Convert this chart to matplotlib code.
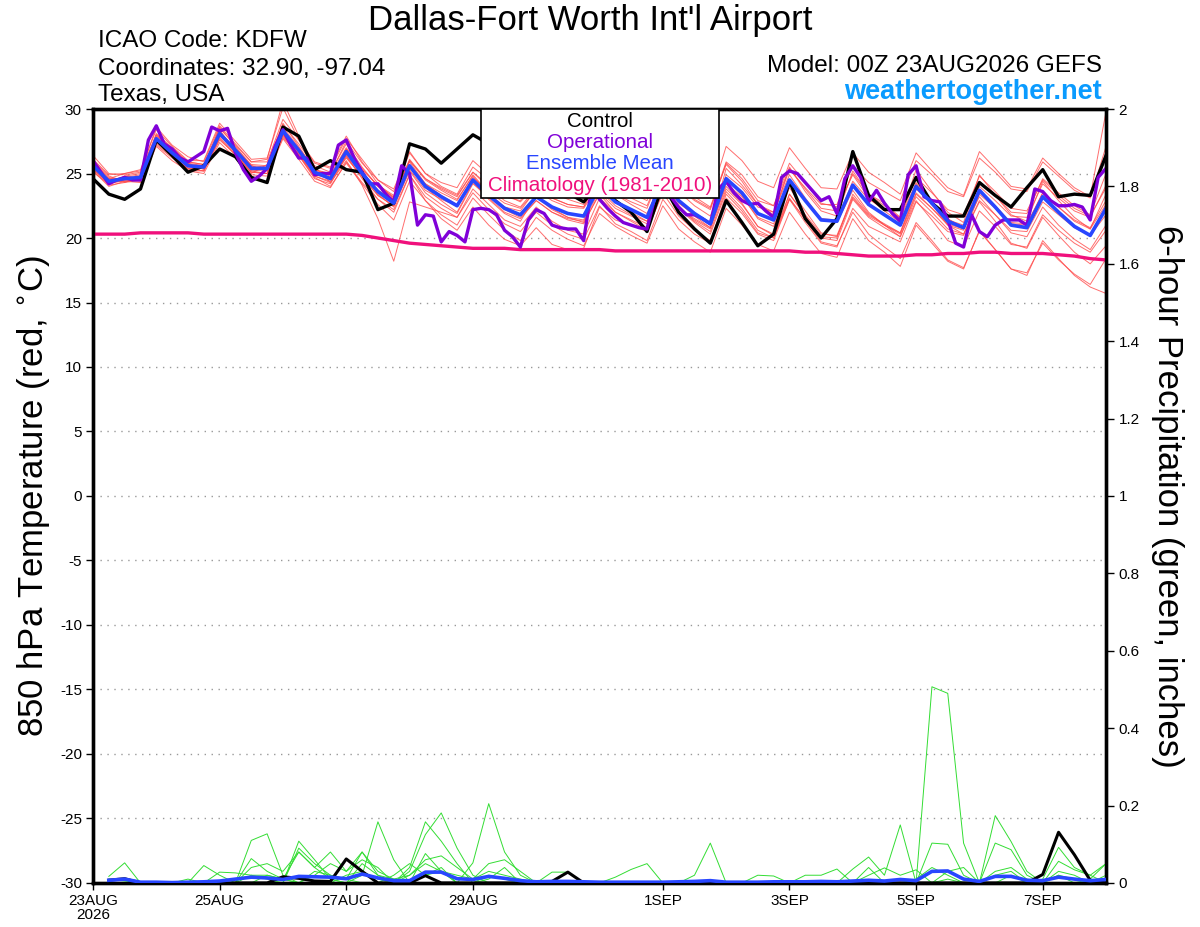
import numpy as np
import matplotlib
matplotlib.use('Agg')
import matplotlib.pyplot as plt
from matplotlib.patches import Rectangle

plt.rcParams['font.family'] = ['Liberation Sans', 'DejaVu Sans']

# 6-hourly ensemble output, 0..384 h
ens_hours = list(range(0, 385, 6))
# operational run is 3-hourly
oper_hours = list(range(0, 385, 3))
# precip starts at 6 h
pcp_hours = list(range(6, 385, 6))

control_t = [24.6, 23.4, 23.0, 23.8, 27.6, 26.4, 25.1, 25.6,
             26.9, 26.3, 24.7, 24.3, 28.6, 27.9, 25.3, 26.0,
             25.3, 25.1, 22.2, 22.7, 27.3, 26.9, 25.8, 26.9,
             28.0, 27.3, 26.0, 25.0, 24.5, 24.0, 23.5, 22.8,
             24.3, 22.9, 22.0, 20.5, 24.2, 22.0, 20.7, 19.6,
             22.9, 21.2, 19.4, 20.3, 24.4, 21.5, 20.0, 21.5,
             26.7, 23.3, 22.2, 22.2, 24.7, 22.7, 21.7, 21.7,
             24.3, 23.3, 22.4, 23.9, 25.3, 23.2, 23.4, 23.3,
             26.4]

mean_t = [25.6, 24.4, 24.6, 24.7, 27.7, 26.6, 25.6, 25.5,
          28.1, 26.8, 25.4, 25.4, 28.3, 26.8, 25.1, 24.6,
          26.7, 25.0, 23.6, 22.7, 25.6, 24.0, 23.2, 22.5,
          24.5, 23.3, 22.3, 21.8, 23.2, 22.4, 21.9, 21.7,
          24.0, 22.8, 22.2, 21.6, 24.5, 22.9, 21.9, 21.1,
          24.6, 23.5, 21.9, 21.4, 24.5, 22.9, 21.4, 21.3,
          24.1, 22.6, 21.8, 21.0, 24.0, 22.7, 21.3, 20.8,
          23.7, 22.4, 21.0, 20.8, 23.2, 22.0, 20.9, 20.2,
          22.3]

oper_t = [26.0, 25.1, 24.2, 24.5, 24.7, 24.5, 24.5, 27.6,
          28.7, 27.3, 26.9, 26.2, 25.9, 26.3, 26.7, 28.6,
          28.3, 28.5, 26.6, 25.3, 24.4, 24.8, 25.4, 27.1,
          28.4, 27.2, 26.2, 26.2, 24.9, 25.0, 25.0, 27.2,
          27.6, 26.2, 25.1, 24.2, 24.2, 23.4, 22.8, 25.6,
          25.0, 21.0, 21.8, 21.7, 19.7, 20.5, 20.2, 19.7,
          22.2, 22.3, 22.2, 21.8, 20.6, 20.1, 19.3, 21.4,
          22.2, 21.9, 21.0, 20.8, 20.7, 20.7, 19.8, 23.9,
          23.0, 22.3, 21.7, 21.2, 21.0, 20.8, 20.7, 23.2,
          24.0, 23.2, 22.4, 21.8, 21.8, 21.5, 21.1, 23.8,
          24.4, 23.5, 22.9, 22.6, 22.7, 22.1, 21.6, 24.7,
          25.2, 25.0, 24.3, 23.6, 22.9, 23.2, 21.9, 24.6,
          25.6, 24.7, 22.8, 23.7, 22.7, 21.9, 21.3, 24.9,
          25.6, 23.2, 22.9, 22.8, 21.4, 19.6, 19.3, 21.8,
          20.5, 20.1, 21.0, 21.4, 21.4, 21.4, 21.0, 23.8,
          23.6, 22.9, 22.5, 22.5, 22.6, 22.4, 21.4, 24.7,
          25.4]

clim_t = [20.3, 20.3, 20.3, 20.4, 20.4, 20.4, 20.4, 20.3,
          20.3, 20.3, 20.3, 20.3, 20.3, 20.3, 20.3, 20.3,
          20.3, 20.2, 20.0, 19.8, 19.6, 19.5, 19.4, 19.3,
          19.2, 19.2, 19.2, 19.1, 19.1, 19.1, 19.1, 19.1,
          19.1, 19.0, 19.0, 19.0, 19.0, 19.0, 19.0, 19.0,
          19.0, 19.0, 19.0, 19.0, 19.0, 18.9, 18.9, 18.8,
          18.7, 18.6, 18.6, 18.6, 18.7, 18.7, 18.8, 18.8,
          18.9, 18.9, 18.8, 18.8, 18.8, 18.7, 18.6, 18.4,
          18.3]

members_t = [
    [26.1, 24.9, 25.0, 25.3, 28.4, 27.1, 26.0, 26.0, 28.9, 27.5, 26.1, 26.2, 30.1, 27.6, 25.8, 25.4,
     27.7, 26.1, 24.5, 23.8, 26.7, 25.0, 24.3, 23.9, 26.0, 24.9, 23.8, 23.3, 24.8, 23.9, 23.4, 23.1,
     26.0, 24.8, 24.3, 23.6, 26.4, 24.9, 24.0, 23.1, 27.1, 26.0, 24.4, 23.9, 27.0, 25.4, 23.9, 23.8,
     26.6, 25.1, 24.3, 23.4, 26.6, 25.2, 23.9, 23.3, 26.7, 25.4, 24.0, 23.8, 26.2, 25.0, 23.9, 23.2, 29.8],
    [25.3, 24.1, 24.3, 24.5, 27.3, 26.3, 25.2, 25.2, 27.6, 26.5, 25.1, 25.0, 27.9, 26.4, 24.7, 24.0,
     25.8, 24.2, 22.6, 21.4, 24.4, 22.9, 21.8, 21.0, 23.1, 21.8, 20.6, 19.8, 21.6, 20.6, 19.9, 19.4,
     21.9, 20.9, 20.2, 19.6, 22.5, 20.7, 19.7, 18.9, 22.3, 21.0, 19.5, 19.0, 22.0, 20.3, 18.8, 18.5,
     21.5, 19.8, 18.9, 17.8, 21.0, 19.6, 18.2, 17.6, 20.6, 19.1, 17.6, 17.1, 19.8, 18.4, 17.1, 16.2, 15.7],
    [25.9, 24.6, 25.0, 25.2, 28.0, 26.9, 25.9, 25.7, 28.5, 27.2, 25.9, 26.1, 30.6, 27.9, 25.5, 24.3,
     26.0, 24.1, 21.5, 18.2, 22.8, 22.4, 22.0, 21.6, 23.8, 22.6, 21.4, 20.9, 22.4, 21.3, 20.6, 20.3,
     23.1, 22.0, 21.4, 20.8, 24.0, 22.3, 21.5, 20.8, 25.4, 24.1, 22.6, 21.8, 25.5, 23.6, 22.1, 21.7,
     25.2, 23.4, 22.7, 21.6, 25.3, 23.6, 22.0, 21.2, 24.9, 23.3, 21.8, 21.3, 24.4, 22.9, 21.6, 20.7, 23.4],
    [25.4, 24.2, 24.8, 25.0, 27.5, 26.4, 25.3, 25.6, 28.4, 26.6, 25.0, 25.7, 28.9, 27.1, 25.3, 25.0,
     27.5, 25.8, 24.5, 23.6, 26.6, 25.0, 24.0, 23.4, 25.5, 24.5, 23.4, 22.8, 24.1, 23.5, 23.0, 22.6,
     24.9, 23.9, 23.5, 22.9, 25.8, 24.1, 23.0, 22.3, 25.9, 24.9, 23.2, 22.5, 25.4, 23.8, 22.3, 22.1,
     25.0, 23.4, 22.5, 21.5, 24.3, 22.8, 21.5, 20.8, 23.2, 21.8, 20.4, 20.1, 22.4, 21.0, 19.9, 19.1, 21.0],
    [25.8, 24.3, 24.5, 24.4, 27.8, 26.7, 25.8, 25.3, 27.9, 26.9, 25.6, 25.2, 28.0, 26.5, 24.8, 24.4,
     26.4, 24.6, 23.0, 22.0, 24.9, 23.2, 22.3, 21.6, 23.5, 22.2, 21.1, 20.5, 22.0, 21.0, 20.3, 19.9,
     22.5, 21.1, 20.5, 19.8, 23.0, 21.4, 20.3, 19.6, 23.4, 22.1, 20.4, 20.0, 23.4, 21.7, 20.1, 20.0,
     23.4, 21.9, 21.0, 20.4, 23.8, 22.6, 21.4, 21.0, 24.4, 23.3, 22.0, 21.9, 24.6, 23.5, 22.5, 21.8, 25.0],
    [26.4, 25.0, 24.9, 25.1, 28.6, 27.2, 26.3, 25.9, 28.7, 27.3, 25.9, 25.9, 29.2, 27.6, 25.9, 25.5,
     27.9, 25.9, 24.2, 23.1, 25.7, 23.9, 22.9, 22.0, 24.3, 23.0, 21.9, 21.3, 23.3, 22.3, 21.6, 21.4,
     24.6, 23.4, 22.8, 22.3, 25.4, 23.9, 22.9, 22.2, 25.8, 24.6, 22.9, 22.5, 25.8, 24.3, 22.7, 22.4,
     24.9, 23.1, 22.1, 21.2, 24.2, 22.6, 21.0, 20.3, 22.8, 21.3, 19.6, 19.2, 21.6, 20.2, 18.9, 18.0, 19.4],
    [25.2, 24.0, 24.4, 24.3, 27.1, 26.0, 25.2, 25.0, 27.4, 26.2, 24.9, 24.8, 27.7, 26.1, 24.4, 23.9,
     25.9, 24.3, 23.0, 22.2, 24.9, 22.9, 21.5, 20.6, 22.4, 21.0, 19.9, 19.4, 20.8, 19.5, 19.1, 19.2,
     22.4, 21.4, 21.0, 20.5, 23.7, 22.3, 21.4, 20.7, 24.2, 23.2, 21.6, 21.1, 24.3, 22.9, 21.5, 21.4,
     24.4, 23.0, 22.3, 21.6, 24.7, 23.5, 22.2, 21.8, 24.8, 23.6, 22.3, 22.1, 24.5, 23.3, 22.3, 21.7, 23.9],
    [25.7, 24.5, 24.7, 24.9, 27.9, 26.9, 25.8, 25.6, 28.3, 26.8, 25.2, 25.3, 28.6, 27.0, 25.3, 24.9,
     27.0, 25.4, 24.0, 23.2, 26.1, 24.6, 23.8, 23.2, 25.1, 23.9, 22.9, 22.4, 23.9, 23.1, 22.6, 22.4,
     24.7, 23.4, 22.6, 21.9, 24.6, 22.8, 21.7, 20.8, 24.0, 22.7, 20.9, 20.2, 23.1, 21.4, 19.7, 19.4,
     22.0, 20.3, 19.3, 18.4, 21.2, 19.8, 18.3, 17.7, 20.5, 19.1, 17.6, 17.3, 19.6, 18.3, 17.2, 16.4, 18.4],
    [25.5, 24.6, 24.6, 24.6, 27.4, 26.5, 25.5, 25.4, 28.0, 26.9, 25.6, 25.5, 28.2, 26.9, 25.2, 24.8,
     26.9, 25.3, 24.1, 23.3, 26.0, 24.6, 23.9, 23.3, 25.1, 24.1, 23.2, 22.9, 24.5, 23.8, 23.4, 23.3,
     25.5, 24.3, 23.6, 23.1, 25.9, 24.3, 23.2, 22.4, 25.7, 24.4, 22.6, 22.0, 24.9, 23.1, 21.5, 21.2,
     23.7, 22.0, 21.0, 20.1, 22.9, 21.4, 19.8, 19.3, 22.1, 20.9, 19.5, 19.3, 21.8, 20.6, 19.6, 18.9, 20.6],
    [25.9, 24.7, 24.3, 24.8, 28.1, 27.0, 25.9, 25.7, 28.2, 27.0, 25.7, 25.6, 28.8, 27.3, 25.6, 25.1,
     27.3, 25.5, 24.0, 23.1, 25.9, 24.2, 23.3, 22.6, 24.4, 23.1, 22.0, 21.5, 22.9, 22.0, 21.5, 21.3,
     23.7, 22.5, 21.8, 21.3, 24.2, 22.7, 21.8, 21.1, 24.9, 23.9, 22.4, 22.0, 25.3, 23.9, 22.6, 22.6,
     25.6, 24.3, 23.6, 22.9, 26.0, 24.9, 23.6, 23.2, 26.2, 25.1, 23.8, 23.6, 25.9, 24.8, 23.7, 23.1, 27.1],
    [25.6, 24.2, 24.8, 24.6, 27.6, 26.5, 25.7, 25.6, 28.0, 26.6, 25.3, 25.3, 28.1, 26.6, 24.9, 24.6,
     26.2, 24.8, 23.3, 22.5, 25.3, 23.7, 23.0, 22.5, 24.7, 23.6, 22.7, 22.3, 23.7, 22.9, 22.4, 22.3,
     24.2, 22.8, 22.0, 21.3, 24.1, 22.4, 21.3, 20.5, 23.8, 22.6, 20.9, 20.3, 23.4, 21.8, 20.3, 20.2,
     23.2, 21.8, 21.1, 20.4, 23.5, 22.3, 21.0, 20.6, 23.7, 22.5, 21.2, 21.1, 23.5, 22.4, 21.3, 20.7, 22.6],
    [25.3, 24.3, 24.4, 24.6, 27.5, 26.4, 25.4, 25.2, 27.7, 26.4, 25.1, 25.0, 28.0, 26.5, 24.8, 24.3,
     26.4, 24.9, 23.7, 23.0, 26.0, 24.5, 23.7, 23.0, 24.8, 23.4, 22.2, 21.6, 22.9, 22.0, 21.4, 21.1,
     23.5, 22.3, 21.7, 21.1, 24.0, 22.3, 21.2, 20.3, 23.6, 22.3, 20.6, 20.0, 23.0, 21.2, 19.6, 19.3,
     22.3, 20.9, 20.3, 19.7, 22.8, 21.7, 20.5, 20.2, 23.4, 22.3, 21.1, 21.0, 23.5, 22.4, 21.4, 20.8, 22.9],
    [26.0, 24.8, 24.4, 24.5, 28.0, 26.8, 25.7, 25.4, 28.6, 27.1, 25.6, 25.2, 28.4, 26.7, 25.0, 24.7,
     26.9, 25.1, 23.4, 22.4, 25.2, 23.5, 22.6, 21.9, 24.2, 23.2, 22.4, 22.1, 23.8, 23.1, 22.6, 22.4,
     25.0, 23.7, 23.1, 22.5, 25.4, 23.6, 22.5, 21.7, 24.6, 23.3, 21.5, 20.9, 23.9, 22.1, 20.4, 20.1,
     23.1, 21.7, 21.0, 20.3, 23.4, 22.3, 21.1, 20.7, 24.0, 22.9, 21.7, 21.6, 24.2, 23.1, 22.1, 21.6, 24.1],
    [25.1, 24.2, 24.5, 24.8, 27.2, 26.2, 25.4, 25.2, 27.8, 26.5, 25.2, 25.0, 27.8, 26.4, 24.6, 24.2,
     26.3, 24.7, 23.3, 22.5, 25.6, 24.2, 23.5, 22.9, 24.9, 23.5, 22.4, 21.8, 23.2, 22.2, 21.6, 21.2,
     23.4, 22.0, 21.3, 20.6, 23.5, 21.7, 20.6, 19.8, 23.1, 21.9, 20.3, 19.8, 23.0, 21.5, 20.0, 19.8,
     23.0, 21.6, 20.8, 20.1, 23.2, 22.0, 20.7, 20.3, 22.9, 21.8, 20.6, 20.5, 22.8, 21.8, 20.8, 20.2, 21.8],
]

control_p = [0.007, 0.011, 0.0, 0.0, 0.0, 0.0, 0.0, 0.0,
             0.0, 0.0, 0.0, 0.016, 0.012, 0.005, 0.004, 0.062,
             0.03, 0.0, 0.0, 0.0, 0.019, 0.0, 0.0, 0.0,
             0.0, 0.0, 0.0, 0.0, 0.004, 0.028, 0.0, 0.0,
             0.0, 0.0, 0.0, 0.0, 0.0, 0.0, 0.0, 0.0,
             0.0, 0.0, 0.0, 0.0, 0.0, 0.0, 0.0, 0.0,
             0.0, 0.0, 0.0, 0.0, 0.0, 0.0, 0.0, 0.0,
             0.0, 0.0, 0.0, 0.022, 0.131, 0.073, 0.007, 0.0]

mean_p = [0.007, 0.010, 0.002, 0.002, 0.001, 0.002, 0.003, 0.005,
          0.010, 0.015, 0.013, 0.009, 0.017, 0.016, 0.015, 0.011,
          0.023, 0.013, 0.006, 0.006, 0.028, 0.028, 0.011, 0.009,
          0.017, 0.012, 0.006, 0.003, 0.004, 0.004, 0.003, 0.002,
          0.002, 0.002, 0.002, 0.002, 0.003, 0.004, 0.006, 0.002,
          0.002, 0.002, 0.003, 0.003, 0.003, 0.004, 0.003, 0.005,
          0.007, 0.005, 0.009, 0.006, 0.030, 0.031, 0.010, 0.004,
          0.017, 0.017, 0.007, 0.006, 0.015, 0.010, 0.006, 0.009]

members_p = [
    [0.017, 0.052, 0, 0, 0, 0, 0, 0, 0, 0.11, 0.127, 0.02, 0, 0, 0, 0,
     0, 0, 0, 0, 0.02, 0.04, 0, 0.052, 0.205, 0.08, 0.02, 0, 0, 0, 0, 0,
     0, 0, 0, 0, 0, 0, 0, 0, 0, 0, 0, 0, 0, 0, 0, 0,
     0, 0, 0, 0.01, 0.04, 0.02, 0, 0, 0, 0, 0, 0, 0, 0, 0, 0],
    [0.01, 0.005, 0, 0, 0, 0, 0.045, 0.02, 0, 0, 0, 0, 0.108, 0.06, 0.01, 0,
     0.02, 0.158, 0.06, 0, 0, 0, 0, 0, 0, 0, 0, 0, 0, 0, 0, 0,
     0, 0, 0, 0, 0, 0, 0, 0, 0, 0, 0, 0, 0, 0, 0, 0,
     0, 0, 0, 0, 0.507, 0.49, 0.103, 0, 0, 0, 0, 0, 0, 0, 0, 0],
    [0, 0, 0, 0, 0, 0, 0, 0, 0, 0.063, 0.03, 0.01, 0, 0, 0, 0.02,
     0.03, 0.01, 0, 0.04, 0.158, 0.108, 0.05, 0, 0.01, 0.04, 0, 0, 0, 0, 0, 0,
     0, 0, 0, 0, 0, 0.02, 0.103, 0, 0, 0, 0, 0, 0, 0, 0, 0,
     0, 0, 0, 0, 0, 0, 0, 0, 0.174, 0.107, 0.03, 0, 0.02, 0, 0.01, 0.05],
    [0, 0, 0, 0, 0, 0, 0, 0.028, 0.026, 0.02, 0.01, 0, 0.09, 0.05, 0.02, 0.01,
     0.08, 0.02, 0, 0.03, 0.125, 0.181, 0.09, 0.02, 0, 0, 0, 0, 0, 0, 0, 0,
     0, 0, 0, 0, 0, 0, 0, 0, 0, 0, 0, 0, 0, 0, 0, 0.036,
     0.067, 0.02, 0.15, 0, 0.103, 0.1, 0.02, 0, 0.103, 0.086, 0.02, 0, 0.056, 0.034, 0.02, 0],
    [0.005, 0.01, 0, 0, 0, 0, 0, 0, 0, 0.04, 0.05, 0.03, 0.08, 0.04, 0.08, 0.03,
     0.08, 0.03, 0.01, 0, 0.076, 0.03, 0, 0, 0.02, 0.01, 0, 0, 0, 0, 0, 0,
     0.015, 0.035, 0.05, 0, 0, 0, 0, 0, 0, 0, 0, 0, 0, 0, 0, 0,
     0, 0, 0, 0, 0, 0, 0, 0, 0, 0, 0, 0, 0, 0, 0, 0],
    [0, 0, 0, 0, 0, 0, 0, 0, 0, 0, 0.02, 0.01, 0, 0.03, 0.02, 0.01,
     0, 0, 0.02, 0.05, 0.02, 0.03, 0, 0, 0, 0, 0, 0, 0.028, 0.028, 0, 0,
     0, 0, 0, 0, 0, 0, 0, 0, 0, 0.02, 0.018, 0, 0.02, 0.02, 0.036, 0,
     0.02, 0.039, 0.02, 0.034, 0, 0.01, 0, 0, 0.02, 0.03, 0, 0.01, 0.092, 0.04, 0.02, 0.05],
    [0, 0, 0, 0, 0, 0.01, 0, 0, 0, 0.02, 0.02, 0.01, 0.08, 0.04, 0.01, 0,
     0.05, 0.02, 0.01, 0.02, 0.06, 0.07, 0.04, 0.01, 0.03, 0.02, 0.01, 0, 0, 0, 0, 0,
     0, 0, 0, 0, 0, 0, 0, 0, 0, 0, 0, 0, 0, 0, 0, 0,
     0.04, 0, 0.01, 0, 0, 0.03, 0.04, 0, 0.03, 0.04, 0.01, 0, 0.03, 0.02, 0, 0],
    [0, 0, 0, 0, 0, 0, 0, 0, 0, 0, 0, 0, 0, 0.02, 0.05, 0.03,
     0.06, 0.04, 0, 0.02, 0.05, 0.03, 0.02, 0.01, 0.05, 0.06, 0.03, 0, 0, 0, 0, 0,
     0, 0, 0, 0, 0, 0, 0, 0, 0, 0, 0, 0, 0, 0, 0, 0,
     0, 0, 0, 0, 0, 0, 0, 0, 0, 0.02, 0, 0, 0.02, 0.01, 0, 0.02],
]

tick_days = [0, 2, 4, 6, 9, 11, 13, 15]
tick_labels = ['23AUG\n2026', '25AUG', '27AUG', '29AUG', '1SEP', '3SEP', '5SEP', '7SEP']
temp_ticks = list(range(-30, 31, 5))
pcp_ticks = [0, 0.2, 0.4, 0.6, 0.8, 1.0, 1.2, 1.4, 1.6, 1.8, 2.0]
pcp_tick_labels = ['0', '0.2', '0.4', '0.6', '0.8', '1', '1.2', '1.4', '1.6', '1.8', '2']

legend_items = [('Control', 'black'),
                ('Operational', '#8000d8'),
                ('Ensemble Mean', '#2846ff'),
                ('Climatology (1981-2010)', '#f0107c')]

ens_x = np.array(ens_hours) / 24.0
oper_x = np.array(oper_hours) / 24.0
pcp_x = np.array(pcp_hours) / 24.0

fig = plt.figure(figsize=(12, 9.27), dpi=100)
ax = fig.add_axes([0.0775, 0.0475, 0.8442, 0.8349])
ax2 = ax.twinx()

# temperature
for m in members_t:
    ax.plot(ens_x, m, color='#ff4a4a', lw=0.7, alpha=0.8, zorder=2)
ax.plot(ens_x, clim_t, color='#f0107c', lw=2.4, zorder=3)
ax.plot(ens_x, control_t, color='black', lw=2.4, zorder=4)
ax.plot(oper_x, oper_t, color='#8000d8', lw=2.4, zorder=5)
ax.plot(ens_x, mean_t, color='#2846ff', lw=2.6, zorder=6)

ax.set_xlim(0, 16)
ax.set_ylim(-30, 30)
ax.set_yticks(temp_ticks)
ax.set_yticklabels([str(t) for t in temp_ticks], fontsize=11)
ax.set_xticks(tick_days)
ax.set_xticklabels(tick_labels, fontsize=11, linespacing=1.0)
ax.yaxis.grid(True, linestyle=(0, (1, 4)), color='#999999', lw=1)
ax.set_axisbelow(True)
ax.tick_params(axis='both', direction='out', length=5, width=1, pad=3)
ax.set_ylabel('850 hPa Temperature (red, $^{\\circ}$C)', fontsize=25, labelpad=6)

# precipitation
for m in members_p:
    ax2.plot(pcp_x, m, color='#33dd33', lw=0.7, zorder=2)
ax2.plot(pcp_x, control_p, color='black', lw=2.2, zorder=3)
ax2.plot(pcp_x, mean_p, color='#2846ff', lw=2.6, zorder=4)
ax2.set_ylim(0, 2)
ax2.set_yticks(pcp_ticks)
ax2.set_yticklabels(pcp_tick_labels, fontsize=11)
ax2.tick_params(axis='y', direction='out', length=6, width=1, pad=3)
ax2.set_ylabel('6-hour Precipitation (green, inches)', fontsize=25, rotation=270, labelpad=32)

for a in (ax, ax2):
    for s in a.spines.values():
        s.set_linewidth(2.4)

# legend box
ax2.add_patch(Rectangle((0.383, 0.885), 0.235, 0.115, transform=ax2.transAxes,
                        facecolor='white', edgecolor='black', lw=1.2, zorder=20))
for k, (label, col) in enumerate(legend_items):
    ax2.text(0.5005, 0.984 - k * 0.0275, label, color=col, fontsize=14.8,
             ha='center', va='center', transform=ax2.transAxes, zorder=21)

# header
fig.text(0.492, 0.978, "Dallas-Fort Worth Int'l Airport", fontsize=25, ha='center', va='center')
fig.text(0.0817, 0.956, 'ICAO Code: KDFW', fontsize=17.5, ha='left', va='center')
fig.text(0.0817, 0.926, 'Coordinates: 32.90, -97.04', fontsize=17.5, ha='left', va='center')
fig.text(0.0817, 0.898, 'Texas, USA', fontsize=17.5, ha='left', va='center')
fig.text(0.918, 0.929, 'Model: 00Z 23AUG2026 GEFS', fontsize=17.5, ha='right', va='center')
fig.text(0.918, 0.901, 'weathertogether.net', fontsize=19.5, fontweight='bold', color='#0a9bff',
         ha='right', va='center')

fig.savefig('out.png', dpi=100)
